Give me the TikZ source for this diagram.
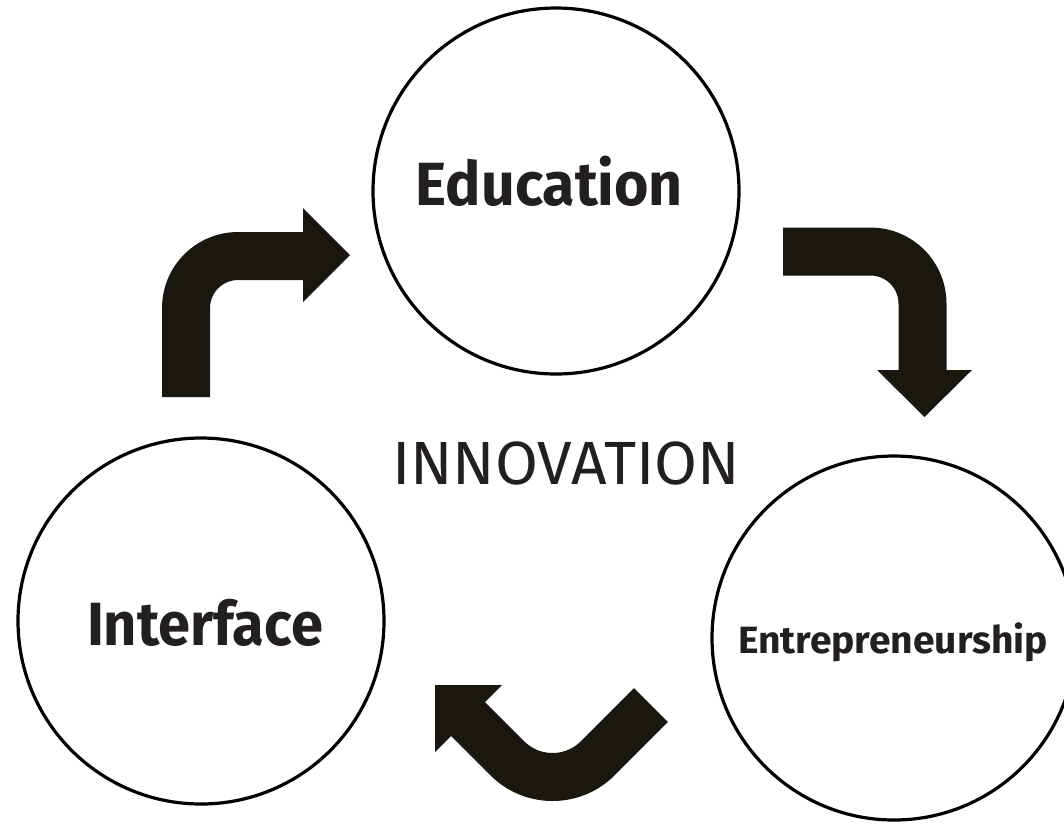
\documentclass[tikz,border=0pt]{standalone}
\usepackage{fontspec}
\setmainfont{Fira Sans}
\usepackage{graphicx}
\definecolor{ink}{RGB}{26,24,14}
\definecolor{txt}{RGB}{35,31,32}
\begin{document}
\begin{tikzpicture}[x=1pt,y=-1pt,
  bubble/.style={circle,draw=black,line width=3.2pt,minimum size=#1,inner sep=0pt},
  bigarrow/.style={draw=ink,line width=48pt,line cap=butt,line join=round},
  arrowhead/.style={fill=ink,draw=none},
  lbl/.style={anchor=base,inner sep=0pt,text=txt}]
\useasboundingbox (0,0) rectangle (1064,823);
\fill[white] (0,0) rectangle (1064,823);
% circles
\node[bubble=366pt] (edu) at (556,191) {};
\node[bubble=366pt] (int) at (201,621) {};
\node[bubble=364pt] (ent) at (894,638) {};
% labels
\node[lbl] (edut) at (549.5,205) {\resizebox{267pt}{\height}{\fontsize{61}{61}\selectfont\bfseries Education}};
\node[lbl] (intt) at (205,645) {\resizebox{236pt}{\height}{\fontsize{61}{61}\selectfont\bfseries Interface}};
\node[lbl] (entt) at (893,653) {\resizebox{310pt}{\height}{\fontsize{38}{38}\selectfont\bfseries Entrepreneurship}};
\node[lbl] (inno) at (566,484) {\resizebox{348pt}{\height}{\fontsize{61}{61}\selectfont INNOVATION}};
% arrow 1: interface -> education
\coordinate (a1s) at (186,397);
\coordinate (a1c) at (186,256);
\coordinate (a1e) at (303,256);
\draw[bigarrow,rounded corners=52pt] (a1s) -- (a1c) -- (a1e);
\fill[arrowhead] (303,208) -- (350,255) -- (303,302) -- cycle;
% arrow 2: education -> entrepreneurship
\coordinate (a2s) at (783,251.5);
\coordinate (a2c) at (922.5,251.5);
\coordinate (a2e) at (922.5,371);
\draw[bigarrow,rounded corners=52pt] (a2s) -- (a2c) -- (a2e);
\fill[arrowhead] (877,370) -- (972,370) -- (924.5,417) -- cycle;
% arrow 3: entrepreneurship -> interface
\coordinate (a3s) at (651,705);
\coordinate (a3c) at (552.5,803.5);
\coordinate (a3e) at (467,718);
\draw[bigarrow,rounded corners=64pt] (a3s) -- (a3c) -- (a3e);
\fill[arrowhead] (435,685) -- (502,685) -- (435,752) -- cycle;
\end{tikzpicture}
\end{document}
